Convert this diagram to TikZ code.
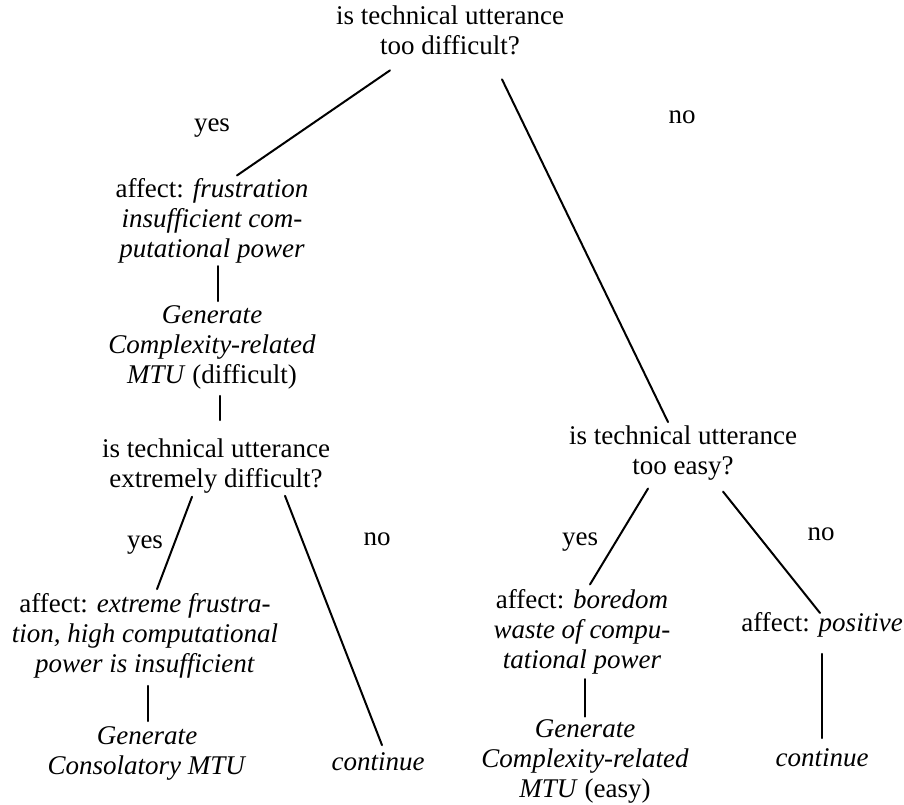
\documentclass[tikz,border=0pt]{standalone}
\usepackage{fontspec}
\setmainfont{Liberation Serif}
\begin{document}
\begin{tikzpicture}[x=1pt,y=1pt,
  every node/.style={inner sep=0pt, outer sep=0pt, font=\fontsize{27}{30}\selectfont},
  txt/.style={align=center},
  lbl/.style={anchor=base},
  link/.style={line width=2pt, line cap=round}]
\useasboundingbox (0,2) rectangle (904,-802);

% decision and outcome nodes
\node[txt] (root) at (450,-28.8) {is technical utterance\\too difficult?};
\node[txt] (q1) at (212,-218.8) {affect: \textit{frustration}\\\textit{insufficient com-}\\\textit{putational power}};
\node[txt] (g1) at (212,-345) {\textit{Generate}\\\textit{Complexity-related}\\\textit{MTU} (difficult)};
\node[txt] (q2) at (216,-464.5) {is technical utterance\\extremely difficult?};
\node[txt] (a2) at (145,-633.5) {affect: \textit{extreme frustra-}\\\textit{tion, high computational}\\\textit{power is insufficient}};
\node[txt] (g2) at (147,-751) {\textit{Generate}\\\textit{Consolatory MTU}};
\node[lbl] (c2) at (378,-768) {\textit{continue}};
\node[txt] (q3) at (683,-451.3) {is technical utterance\\too easy?};
\node[txt] (a3) at (582,-629.8) {affect: \textit{boredom}\\\textit{waste of compu-}\\\textit{tational power}};
\node[txt] (g3) at (585,-759.5) {\textit{Generate}\\\textit{Complexity-related}\\\textit{MTU} (easy)};
\node[lbl] (a4) at (822,-629) {affect: \textit{positive}};
\node[lbl] (c4) at (822,-764) {\textit{continue}};

% branch labels
\node[lbl] (yes1) at (212,-129) {yes};
\node[lbl] (no1) at (682,-121) {no};
\node[lbl] (yes2) at (145,-546) {yes};
\node[lbl] (no2) at (377,-543) {no};
\node[lbl] (yes3) at (580,-543) {yes};
\node[lbl] (no3) at (821,-538) {no};

% connectors
\draw[link] ([shift={(-60,-15)}]root.south) -- ([shift={(25,3)}]q1.north);
\draw[link] ([shift={(52,-24)}]root.south) -- ([shift={(-15,4)}]q3.north);
\draw[link] ([shift={(6,-3)}]q1.south) -- ([shift={(6,4)}]g1.north);
\draw[link] ([shift={(8,-7)}]g1.south) -- ([shift={(4,19)}]q2.north);
\draw[link] ([shift={(-24,-3)}]q2.south) -- ([shift={(12,4)}]a2.north);
\draw[link] ([shift={(69,-2)}]q2.south) -- ([shift={(4,7)}]c2.north);
\draw[link] ([shift={(3,-8)}]a2.south) -- ([shift={(1,5)}]g2.north);
\draw[link] ([shift={(-35,-8)}]q3.south) -- ([shift={(8,5)}]a3.north);
\draw[link] ([shift={(40,-11)}]q3.south) -- ([shift={(-2,-1)}]a4.north);
\draw[link] ([shift={(3,-5)}]a3.south) -- ([shift={(0,3)}]g3.north);
\draw[link] ([shift={(0,-17)}]a4.south) -- ([shift={(0,10)}]c4.north);
\end{tikzpicture}
\end{document}
